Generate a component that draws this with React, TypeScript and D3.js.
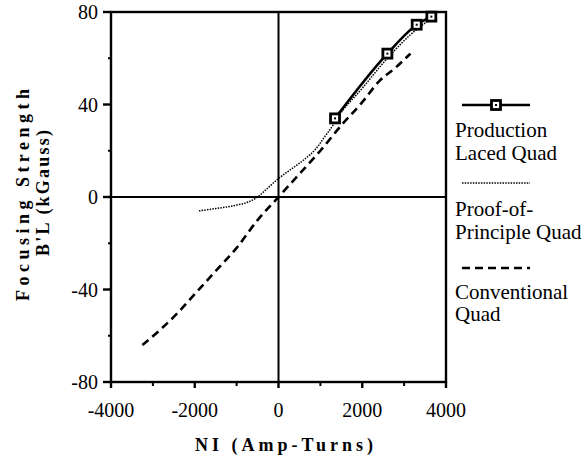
import React from "react";
import * as d3 from "d3";

// values
const productionNI = [1350, 2600, 3300, 3650];
const productionBL = [34, 62, 74.5, 78];

const proofNI = [-1900, -1500, -1000, -700, -500, -250, 0, 300, 600, 900, 1100, 1300, 1400, 2000, 2600, 3300, 3600];
const proofBL = [-6, -5, -3.5, -2, 0, 4, 8, 12, 16, 21, 26, 31, 34, 47, 60, 72.5, 76.5];

const convNI = [-3250, -2800, -2400, -2000, -1500, -1000, -500, 0, 500, 1000, 1500, 2000, 2400, 2800, 3150];
const convBL = [-64, -57, -50, -42, -32, -22, -10, 0, 10, 20, 31, 41, 50, 56, 62];

const xTicks = [-4000, -2000, 0, 2000, 4000];
const xMinor = [-3000, -1000, 1000, 3000];
const yTicks = [80, 40, 0, -40, -80];
const yMinor = [60, 20, -20, -60];

const legendLines = [
  ["Production", "Laced Quad"],
  ["Proof-of-", "Principle Quad"],
  ["Conventional", "Quad"],
];

const width = 588;
const height = 464;
const serif = "Times, 'Times New Roman', 'Liberation Serif', 'DejaVu Serif', 'Noto Serif', serif";

const App = () => {
  const x = d3.scaleLinear().domain([-4000, 4000]).range([111, 446]);
  const y = d3.scaleLinear().domain([-80, 80]).range([382, 12]);

  const toPts = (xs: number[], ys: number[]) => xs.map((v, i) => [v, ys[i]] as [number, number]);

  const straight = d3
    .line<[number, number]>()
    .x((d) => x(d[0]))
    .y((d) => y(d[1]));
  const smooth = straight.curve(d3.curveMonotoneX);

  const prod = toPts(productionNI, productionBL);
  const proof = toPts(proofNI, proofBL);
  const conv = toPts(convNI, convBL);

  const [x0, x1] = x.range();
  const [yb, yt] = y.range();

  const marker = (cx: number, cy: number, key: string) => (
    <g key={key}>
      <rect x={cx - 4.5} y={cy - 4.5} width={9} height={9} fill="#fff" stroke="#000" strokeWidth={2.8} />
      <rect x={cx - 1} y={cy - 1} width={2} height={2} fill="#000" />
    </g>
  );

  // legend
  const lx0 = 462;
  const lx1 = 530;
  const legendY = [105, 183, 268];
  const textY = [[137, 160], [216, 239], [299, 321]];

  return (
    <svg
      width={width}
      height={height}
      style={{ position: "absolute", left: 0, top: 0, background: "#fff", fontFamily: serif }}
    >
      {/* data lines */}
      <path d={smooth(conv) ?? ""} fill="none" stroke="#000" strokeWidth={2.6} strokeDasharray="8,5" />
      <path d={smooth(proof) ?? ""} fill="none" stroke="#000" strokeWidth={1.5} strokeDasharray="1.5,1.2" />
      <path d={straight(prod) ?? ""} fill="none" stroke="#000" strokeWidth={2.6} />
      {prod.map((d, i) => marker(x(d[0]), y(d[1]), "m" + i))}

      {/* frame and zero lines */}
      <rect x={x0} y={yt} width={x1 - x0} height={yb - yt} fill="none" stroke="#000" strokeWidth={2.4} />
      <line x1={x(0)} x2={x(0)} y1={yt} y2={yb} stroke="#000" strokeWidth={2} />
      <line x1={x0} x2={x1} y1={y(0)} y2={y(0)} stroke="#000" strokeWidth={2} />

      {/* x ticks */}
      {xTicks.map((t) => (
        <g key={"xt" + t}>
          <line x1={x(t)} x2={x(t)} y1={yb} y2={yb + 6} stroke="#000" strokeWidth={2.4} />
          <text x={x(t)} y={417} textAnchor="middle" fontSize={20}>
            {t}
          </text>
        </g>
      ))}
      {xMinor.map((t) => (
        <line key={"xm" + t} x1={x(t)} x2={x(t)} y1={yb} y2={yb + 4} stroke="#000" strokeWidth={2} />
      ))}

      {/* y ticks */}
      {yTicks.map((t) => (
        <g key={"yt" + t}>
          <line x1={x0} x2={x0 - 8} y1={y(t)} y2={y(t)} stroke="#000" strokeWidth={2.4} />
          <text x={98} y={y(t) + 7} textAnchor="end" fontSize={20}>
            {t}
          </text>
        </g>
      ))}
      {yMinor.map((t) => (
        <line key={"ym" + t} x1={x0} x2={x0 - 3} y1={y(t)} y2={y(t)} stroke="#000" strokeWidth={2} />
      ))}

      {/* axis titles */}
      <text x={195} y={451} fontSize={18} fontWeight="bold" textLength={178} lengthAdjust="spacing">
        NI  (Amp-Turns)
      </text>
      <text
        transform="translate(29,301) rotate(-90)"
        fontSize={18}
        fontWeight="bold"
        textLength={212}
        lengthAdjust="spacing"
      >
        Focusing  Strength
      </text>
      <text
        transform="translate(49,256) rotate(-90)"
        fontSize={18}
        fontWeight="bold"
        textLength={126}
        lengthAdjust="spacing"
      >
        B'L (kGauss)
      </text>

      {/* legend */}
      <line x1={lx0} x2={lx1} y1={legendY[0]} y2={legendY[0]} stroke="#000" strokeWidth={2.6} />
      {marker((lx0 + lx1) / 2, legendY[0], "lm")}
      <line x1={lx0} x2={lx1} y1={legendY[1]} y2={legendY[1]} stroke="#000" strokeWidth={1.5} strokeDasharray="1.5,1.2" />
      <line x1={lx0} x2={lx1} y1={legendY[2]} y2={legendY[2]} stroke="#000" strokeWidth={2.6} strokeDasharray="8,5" />
      {legendLines.map((lines, i) =>
        lines.map((s, j) => (
          <text key={"lt" + i + j} x={455} y={textY[i][j]} fontSize={21}>
            {s}
          </text>
        ))
      )}
    </svg>
  );
};

export default App;
